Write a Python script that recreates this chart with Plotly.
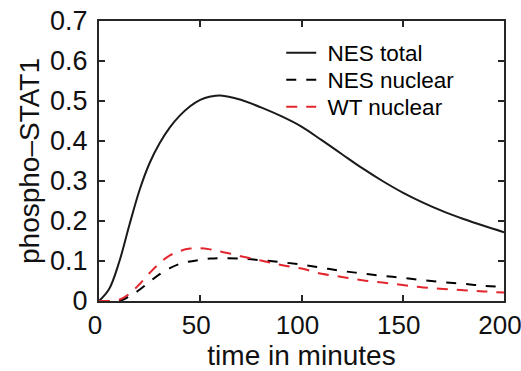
import plotly.graph_objects as go

time_min = [0, 5, 10, 15, 20, 25, 30, 35, 40, 45, 50, 55, 60, 70, 80, 90, 100,
            110, 120, 130, 140, 150, 160, 170, 180, 190, 200]
nes_total = [0, 0.03, 0.098, 0.19, 0.277, 0.345, 0.395, 0.434, 0.464, 0.487, 0.503,
             0.511, 0.514, 0.503, 0.484, 0.462, 0.436, 0.402, 0.367, 0.332, 0.300,
             0.271, 0.246, 0.224, 0.205, 0.188, 0.172]
nes_nuclear = [0, 0, 0.0, 0.012, 0.028, 0.048, 0.067, 0.082, 0.093, 0.099, 0.103,
               0.106, 0.107, 0.106, 0.102, 0.097, 0.091, 0.083, 0.075, 0.069, 0.063,
               0.058, 0.052, 0.047, 0.043, 0.038, 0.035]
wt_nuclear = [0, 0, 0.003, 0.018, 0.042, 0.07, 0.095, 0.114, 0.125, 0.131, 0.132,
              0.129, 0.124, 0.112, 0.101, 0.09, 0.081, 0.068, 0.06, 0.052, 0.046,
              0.04, 0.034, 0.03, 0.027, 0.024, 0.021]
x_ticks = [0, 50, 100, 150, 200]
y_ticks = [0, 0.1, 0.2, 0.3, 0.4, 0.5, 0.6, 0.7]

FONT = "Liberation Sans, Arial, Helvetica, sans-serif"
INK = "#1a1a1a"
RED = "#e3262d"
NB = "\u00a0"

fig = go.Figure()
fig.add_trace(go.Scatter(x=time_min, y=nes_total, mode="lines", name=NB + "NES total",
                         line=dict(color=INK, width=2, shape="spline", smoothing=1.0),
                         legend="legend"))
fig.add_trace(go.Scatter(x=time_min, y=nes_nuclear, mode="lines", name=NB + "NES nuclear",
                         line=dict(color="#000000", width=2, dash="10px,10px",
                                   shape="spline", smoothing=1.0),
                         legend="legend2"))
fig.add_trace(go.Scatter(x=time_min, y=wt_nuclear, mode="lines", name=NB + "WT nuclear",
                         line=dict(color=RED, width=2, dash="11px,9px",
                                   shape="spline", smoothing=1.0),
                         legend="legend3"))

PT, PB = 21, 301
def py(p):
    return (PB - p) / (PB - PT)

leg_common = dict(x=0.45, xanchor="left", yanchor="middle", bgcolor="rgba(0,0,0,0)",
                  borderwidth=0, font=dict(family=FONT, size=22.5, color="#000"))

axis_common = dict(showline=True, linewidth=2, linecolor="#262626", mirror="ticks",
                   ticks="inside", ticklen=6, tickwidth=2, tickcolor="#262626",
                   showgrid=False, zeroline=False, ticklabeloverflow="allow",
                   automargin=False)

fig.update_layout(
    width=521, height=371,
    margin=dict(l=99, r=17, t=21, b=70, autoexpand=False),
    paper_bgcolor="white", plot_bgcolor="white",
    font=dict(family=FONT, color="#111"),
    showlegend=True,
    legend=dict(y=py(53), **leg_common),
    legend2=dict(y=py(80), **leg_common),
    legend3=dict(y=py(107), **leg_common),
    xaxis=dict(range=[0, 200], tickvals=x_ticks,
               tickfont=dict(family=FONT, size=26, color="#111"),
               ticklabelshift=-4,
               title=dict(text="time in minutes", font=dict(family=FONT, size=28, color="#111"),
                          standoff=12),
               **axis_common),
    yaxis=dict(range=[0, 0.7], tickvals=y_ticks,
               tickfont=dict(family=FONT, size=27, color="#111"),
               title=dict(text="phospho–STAT1", font=dict(family=FONT, size=28, color="#111"),
                          standoff=2),
               ticklabelstandoff=4,
               **axis_common),
)

fig.write_html("out.html")
